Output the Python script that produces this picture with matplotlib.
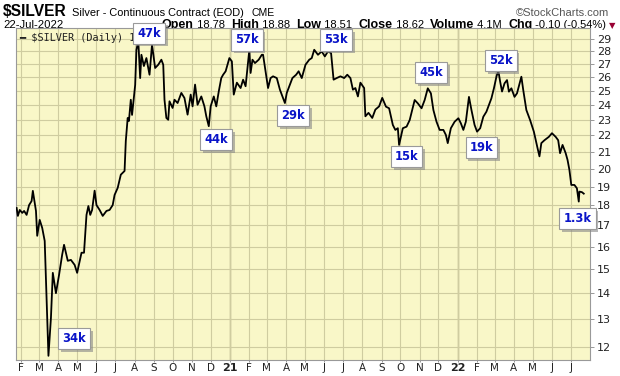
import matplotlib
matplotlib.use("Agg")
import matplotlib.pyplot as plt
import matplotlib.dates as mdates
import matplotlib.patheffects as pe
from matplotlib.ticker import FixedLocator, NullLocator, FixedFormatter, NullFormatter
import pandas as pd

# daily close
dates = [
    "2020-01-25", "2020-01-27", "2020-01-30", "2020-02-03", "2020-02-06", "2020-02-10",
    "2020-02-14", "2020-02-18", "2020-02-20", "2020-02-25", "2020-02-27", "2020-03-02",
    "2020-03-06", "2020-03-10", "2020-03-16", "2020-03-20", "2020-03-23", "2020-03-28",
    "2020-04-02", "2020-04-07", "2020-04-10", "2020-04-16", "2020-04-21", "2020-04-27",
    "2020-05-01", "2020-05-08", "2020-05-12", "2020-05-16", "2020-05-19", "2020-05-22",
    "2020-05-25", "2020-05-29", "2020-06-01", "2020-06-06", "2020-06-11", "2020-06-17",
    "2020-06-22", "2020-06-27", "2020-06-30", "2020-07-05", "2020-07-10", "2020-07-16",
    "2020-07-18", "2020-07-21", "2020-07-23", "2020-07-26", "2020-07-28", "2020-08-02",
    "2020-08-04", "2020-08-07", "2020-08-10", "2020-08-12", "2020-08-16", "2020-08-20",
    "2020-08-25", "2020-08-29", "2020-09-03", "2020-09-08", "2020-09-13", "2020-09-16",
    "2020-09-18", "2020-09-21", "2020-09-24", "2020-09-26", "2020-10-01", "2020-10-04",
    "2020-10-09", "2020-10-15", "2020-10-20", "2020-10-25", "2020-10-30", "2020-11-02",
    "2020-11-06", "2020-11-10", "2020-11-16", "2020-11-21", "2020-11-24", "2020-11-28",
    "2020-12-01", "2020-12-06", "2020-12-10", "2020-12-14", "2020-12-18", "2020-12-21",
    "2020-12-25", "2020-12-31", "2021-01-04", "2021-01-07", "2021-01-12", "2021-01-18",
    "2021-01-22", "2021-01-26", "2021-02-01", "2021-02-03", "2021-02-06", "2021-02-10",
    "2021-02-16", "2021-02-21", "2021-02-23", "2021-02-27", "2021-03-03", "2021-03-07",
    "2021-03-11", "2021-03-17", "2021-03-22", "2021-03-30", "2021-04-02", "2021-04-06",
    "2021-04-11", "2021-04-17", "2021-04-21", "2021-04-26", "2021-05-02", "2021-05-08",
    "2021-05-12", "2021-05-16", "2021-05-22", "2021-05-28", "2021-06-02", "2021-06-07",
    "2021-06-12", "2021-06-16", "2021-06-21", "2021-06-27", "2021-07-03", "2021-07-08",
    "2021-07-13", "2021-07-17", "2021-07-21", "2021-07-25", "2021-07-29", "2021-08-04",
    "2021-08-06", "2021-08-11", "2021-08-17", "2021-08-22", "2021-08-28", "2021-09-02",
    "2021-09-08", "2021-09-13", "2021-09-19", "2021-09-23", "2021-09-27", "2021-09-29",
    "2021-10-05", "2021-10-11", "2021-10-16", "2021-10-20", "2021-10-24", "2021-10-29",
    "2021-11-04", "2021-11-09", "2021-11-14", "2021-11-19", "2021-11-23", "2021-11-28",
    "2021-12-03", "2021-12-09", "2021-12-13", "2021-12-16", "2021-12-21", "2021-12-27",
    "2022-01-02", "2022-01-06", "2022-01-10", "2022-01-14", "2022-01-19", "2022-01-23",
    "2022-01-28", "2022-02-01", "2022-02-06", "2022-02-11", "2022-02-16", "2022-02-20",
    "2022-02-24", "2022-02-28", "2022-03-04", "2022-03-07", "2022-03-10", "2022-03-13",
    "2022-03-17", "2022-03-21", "2022-03-24", "2022-03-28", "2022-04-02", "2022-04-06",
    "2022-04-13", "2022-04-16", "2022-04-21", "2022-04-27", "2022-05-03", "2022-05-06",
    "2022-05-09", "2022-05-12", "2022-05-15", "2022-05-20", "2022-05-27", "2022-06-01",
    "2022-06-07", "2022-06-11", "2022-06-14", "2022-06-18", "2022-06-23", "2022-06-26",
    "2022-06-29", "2022-07-02", "2022-07-07", "2022-07-11", "2022-07-14", "2022-07-15",
    "2022-07-19", "2022-07-22",
]
prices = [
    17.87, 17.47, 17.77, 17.62, 17.72, 17.52,
    18.02, 18.23, 18.77, 17.72, 16.50, 17.27,
    16.88, 16.26, 11.70, 13.04, 14.84, 14.00,
    14.75, 15.63, 16.08, 15.36, 15.40, 15.18,
    14.84, 15.72, 15.72, 17.52, 17.97, 17.52,
    17.77, 18.78, 18.02, 17.77, 17.47, 17.72,
    17.77, 18.02, 18.55, 18.93, 19.66, 19.87,
    21.66, 23.13, 22.93, 24.37, 23.33, 25.42,
    28.10, 28.84, 25.93, 27.72, 26.84, 27.46,
    26.18, 28.53, 26.69, 26.94, 27.33, 26.94,
    24.37, 23.13, 23.01, 24.26, 23.80, 24.37,
    24.14, 24.85, 24.49, 23.35, 24.73, 23.91,
    25.45, 24.02, 24.60, 23.91, 23.24, 22.59,
    23.91, 24.60, 23.91, 24.96, 25.93, 26.18,
    26.44, 27.46, 27.20, 24.73, 25.59, 25.20,
    25.81, 25.33, 28.12, 26.31, 27.33, 27.07,
    27.33, 27.72, 27.72, 26.44, 25.20, 25.93,
    26.06, 25.93, 25.08, 24.14, 24.85, 25.33,
    25.93, 26.18, 26.44, 25.93, 26.94, 27.33,
    27.46, 28.12, 27.72, 27.99, 27.59, 27.99,
    27.85, 25.81, 25.93, 26.06, 25.93, 26.18,
    25.93, 25.08, 25.20, 24.60, 25.59, 25.20,
    23.24, 23.47, 23.13, 23.69, 23.91, 24.50,
    23.89, 23.78, 22.67, 22.35, 22.46, 21.41,
    22.46, 22.56, 22.99, 23.66, 24.35, 24.12,
    23.78, 24.35, 25.18, 24.82, 23.66, 22.88,
    22.35, 22.35, 22.03, 21.52, 22.46, 22.88,
    23.11, 22.78, 22.35, 22.88, 24.57, 23.66,
    22.67, 22.24, 22.46, 23.21, 23.55, 24.00,
    24.47, 25.18, 26.03, 26.50, 25.66, 24.95,
    25.54, 25.78, 24.94, 25.18, 24.57, 24.82,
    26.03, 25.06, 23.66, 22.99, 22.24, 21.70,
    21.20, 20.72, 21.52, 21.70, 21.91, 22.14,
    21.91, 21.70, 20.91, 21.41, 20.91, 20.51,
    19.93, 19.09, 19.09, 18.91, 18.20, 18.73,
    18.70, 18.62,
]

# volume call-outs
vol_labels = ["34k", "47k", "44k", "57k", "29k", "53k", "15k", "45k", "19k", "52k", "1.3k"]
vol_dates = ["2020-04-26", "2020-08-24", "2020-12-10", "2021-01-28", "2021-04-12", "2021-06-20",
             "2021-10-11", "2021-11-19", "2022-02-08", "2022-03-11", "2022-07-12"]
vol_prices = [12.3, 29.5, 21.75, 28.92, 23.3, 28.92, 20.72, 26.35, 21.27, 27.25, 17.35]

y_ticks = list(range(12, 30))
month_starts = pd.date_range("2020-02-01", "2022-07-01", freq="MS")

grid_col = "#cfcca0"
year_col = "#a8a47c"
text_col = "#222222"

fig = plt.figure(figsize=(6.2, 3.76), dpi=100)
ax = fig.add_axes([16 / 620, 16 / 376, 574 / 620, 332 / 376])
ax.set_zorder(5)
ax.set_facecolor("#f9f7c8")

x = pd.to_datetime(dates)
ax.plot(x, prices, color="black", lw=1.3, zorder=3)

ax.set_yscale("log")
ax.set_ylim(11.56, 29.93)
ax.set_xlim(pd.Timestamp("2020-01-24"), pd.Timestamp("2022-08-01"))

ax.yaxis.tick_right()
ax.yaxis.set_major_locator(FixedLocator(y_ticks))
ax.yaxis.set_major_formatter(FixedFormatter([str(t) for t in y_ticks]))
ax.yaxis.set_minor_locator(NullLocator())
ax.yaxis.set_minor_formatter(NullFormatter())
ax.tick_params(axis="y", length=3, width=0.6, color="#888888", labelsize=8,
               labelcolor=text_col, pad=2)

ax.xaxis.set_major_locator(FixedLocator(mdates.date2num(month_starts)))
labels = [(str(d.year)[2:] if d.month == 1 else d.strftime("%b")[0]) for d in month_starts]
ax.set_xticklabels(labels)
ax.tick_params(axis="x", length=1.5, width=0.6, color="#888888", labelsize=7.5,
               labelcolor=text_col, pad=1)
for lab, d in zip(ax.get_xticklabels(), month_starts):
    if d.month == 1:
        lab.set_fontweight("bold")
        lab.set_fontsize(8)

ax.grid(True, which="major", color=grid_col, lw=0.8, zorder=1)
for d in month_starts:
    if d.month == 1:
        ax.axvline(d, color=year_col, lw=1.0, zorder=1.5)
for s in ax.spines.values():
    s.set_color("#999999")
    s.set_linewidth(0.8)

ax.text(0.006, 0.985, "\u2501 $SILVER (Daily) 18.62", transform=ax.transAxes,
        fontsize=7.4, family="DejaVu Sans Mono", color=text_col, va="top", ha="left", zorder=4)

for lab, d, p in zip(vol_labels, vol_dates, vol_prices):
    t = ax.text(pd.Timestamp(d), p, lab, ha="center", va="center", fontsize=8.3,
                fontweight="bold", color="#0a14c8", zorder=10, clip_on=False,
                bbox=dict(boxstyle="square,pad=0.35", fc="white", ec="#9a9a9a", lw=0.8))
    t.get_bbox_patch().set_path_effects([
        pe.withSimplePatchShadow(offset=(2, -2), shadow_rgbFace="#888888", alpha=0.6)])

fig.canvas.draw()
renderer = fig.canvas.get_renderer()


def header(x0, base, txt, width, bold=False, color="black", size=9):
    # shrink or grow the font so the text spans the width measured on the reference
    t = fig.text(x0 / 620, 1 - base / 376, txt, fontsize=size,
                 fontweight="bold" if bold else "normal", family="Liberation Sans",
                 color=color, ha="left", va="baseline")
    w = t.get_window_extent(renderer).width
    t.set_fontsize(size * width / w)
    return t


header(3, 16.5, "$SILVER", 64, bold=True, size=12)
header(72, 16.5, "Silver - Continuous Contract (EOD)", 172, size=9)
header(251, 16.5, "CME", 23, size=7.5)
header(516, 16, "\u00a9StockCharts.com", 93, color="#555555", size=8)
header(3, 28, "22-Jul-2022", 60, size=8)

pieces = [("Open", True), (" 18.78  ", False), ("High", True), (" 18.88  ", False),
          ("Low", True), (" 18.51  ", False), ("Close", True), (" 18.62  ", False),
          ("Volume", True), (" 4.1M  ", False), ("Chg", True), (" -0.10 (-0.54%)", False)]
parts = []
total = 0
for txt, bold in pieces:
    t = fig.text(0, 1 - 28 / 376, txt, fontsize=9.5 if bold else 8.5,
                 fontweight="bold" if bold else "normal", family="Liberation Sans",
                 color="black", ha="left", va="baseline")
    parts.append(t)
    total += t.get_window_extent(renderer).width
scale = (607 - 162) / total
xpos = 162
for t in parts:
    t.set_fontsize(t.get_fontsize() * scale)
    t.set_x(xpos / 620)
    xpos += t.get_window_extent(renderer).width
fig.text((xpos + 3) / 620, 1 - 28 / 376, "\u25bc", fontsize=6, color="#990033",
         family="DejaVu Sans", ha="left", va="baseline")

fig.savefig("out.png", dpi=100)
